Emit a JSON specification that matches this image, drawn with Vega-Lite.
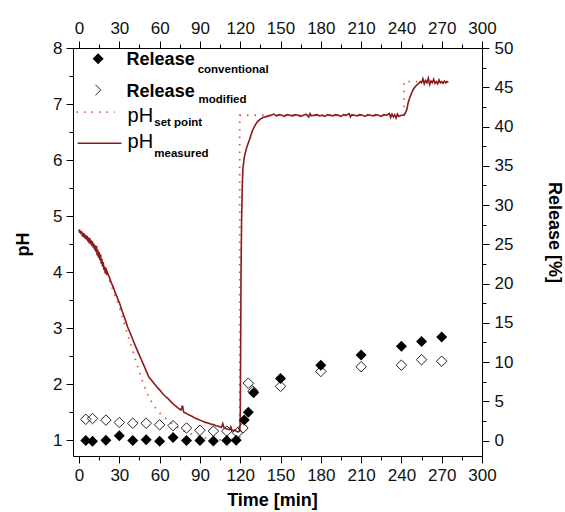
{
  "$schema": "https://vega.github.io/schema/vega-lite/v6.json",
  "width": 409,
  "height": 408,
  "autosize": {"type": "none"},
  "padding": {"left": 73, "top": 48, "right": 83, "bottom": 56},
  "background": "white",
  "config": {
    "view": {"stroke": null},
    "font": "Liberation Sans",
    "axis": {
      "domainColor": "#000", "tickColor": "#000", "labelColor": "#111", "titleColor": "#000",
      "grid": false, "labelFont": "Liberation Sans", "labelFontSize": 17,
      "titleFont": "Liberation Sans", "titleFontSize": 18, "titleFontWeight": "bold",
      "domainWidth": 1, "tickWidth": 1, "tickSize": 7, "labelFlush": false, "labelOverlap": false, "labelBound": false
    }
  },
  "datasets": {
    "measured": [
      {"t":0,"ph":4.76},{"t":0.5,"ph":4.70},{"t":1,"ph":4.74},{"t":1.5,"ph":4.68},{"t":2,"ph":4.73},{"t":2.5,"ph":4.64},{"t":3,"ph":4.70},{"t":3.5,"ph":4.62},{"t":4,"ph":4.69},{"t":4.5,"ph":4.60},
      {"t":5,"ph":4.66},{"t":5.5,"ph":4.58},{"t":6,"ph":4.65},{"t":6.5,"ph":4.55},{"t":7,"ph":4.62},{"t":7.5,"ph":4.52},{"t":8,"ph":4.61},{"t":8.5,"ph":4.50},{"t":9,"ph":4.57},{"t":9.5,"ph":4.47},
      {"t":10,"ph":4.55},{"t":10.5,"ph":4.44},{"t":11,"ph":4.51},{"t":11.5,"ph":4.40},{"t":12,"ph":4.48},{"t":12.5,"ph":4.36},{"t":13,"ph":4.47},{"t":13.5,"ph":4.30},{"t":14,"ph":4.40},{"t":14.5,"ph":4.26},
      {"t":15,"ph":4.36},{"t":15.5,"ph":4.22},{"t":16,"ph":4.32},{"t":16.5,"ph":4.15},{"t":17,"ph":4.24},{"t":17.5,"ph":4.10},{"t":18,"ph":4.18},{"t":18.5,"ph":4.04},{"t":19,"ph":4.10},{"t":19.5,"ph":3.98},
      {"t":20,"ph":4.08},{"t":20.5,"ph":3.95},{"t":21,"ph":4.00},{"t":22,"ph":3.94},{"t":23,"ph":3.88},{"t":24,"ph":3.81},{"t":25,"ph":3.76},{"t":26,"ph":3.70},{"t":27,"ph":3.63},{"t":28,"ph":3.58},{"t":29,"ph":3.51},
      {"t":30,"ph":3.46},{"t":32,"ph":3.31},{"t":34,"ph":3.18},{"t":36,"ph":3.03},{"t":38,"ph":2.92},{"t":40,"ph":2.80},{"t":42,"ph":2.68},{"t":44,"ph":2.57},{"t":46,"ph":2.46},{"t":48,"ph":2.35},
      {"t":50,"ph":2.24},{"t":52,"ph":2.13},{"t":54,"ph":2.07},{"t":56,"ph":2.01},{"t":58,"ph":1.95},{"t":60,"ph":1.90},{"t":62,"ph":1.84},{"t":64,"ph":1.79},{"t":66,"ph":1.75},{"t":68,"ph":1.70},
      {"t":70,"ph":1.65},{"t":72,"ph":1.61},{"t":74,"ph":1.57},{"t":76,"ph":1.54},{"t":77,"ph":1.62},{"t":78,"ph":1.50},{"t":80,"ph":1.48},{"t":82,"ph":1.45},{"t":84,"ph":1.43},{"t":86,"ph":1.40},
      {"t":88,"ph":1.38},{"t":90,"ph":1.36},{"t":92,"ph":1.34},{"t":94,"ph":1.32},{"t":96,"ph":1.31},{"t":98,"ph":1.29},{"t":100,"ph":1.28},{"t":102,"ph":1.26},{"t":104,"ph":1.25},{"t":106,"ph":1.23},
      {"t":107,"ph":1.30},{"t":108,"ph":1.22},{"t":110,"ph":1.20},{"t":112,"ph":1.19},{"t":113,"ph":1.24},{"t":114,"ph":1.17},{"t":116,"ph":1.18},{"t":118,"ph":1.15},{"t":119.5,"ph":1.16},
      {"t":120,"ph":1.30},{"t":120.3,"ph":2.6},{"t":120.6,"ph":4.0},{"t":121,"ph":4.9},{"t":121.5,"ph":5.5},{"t":122,"ph":5.85},{"t":123,"ph":6.05},{"t":124,"ph":6.15},{"t":125,"ph":6.24},
      {"t":127,"ph":6.37},{"t":129,"ph":6.52},{"t":131,"ph":6.62},{"t":133,"ph":6.69},{"t":135,"ph":6.73},{"t":137,"ph":6.76},{"t":140,"ph":6.78},{"t":143,"ph":6.80},{"t":145,"ph":6.82},{"t":147,"ph":6.79},
      {"t":149,"ph":6.81},{"t":151,"ph":6.80},{"t":153,"ph":6.78},{"t":155,"ph":6.81},{"t":157,"ph":6.80},{"t":159,"ph":6.79},{"t":161,"ph":6.81},{"t":163,"ph":6.80},{"t":165,"ph":6.78},{"t":167,"ph":6.80},
      {"t":169,"ph":6.82},{"t":171,"ph":6.77},{"t":172,"ph":6.83},{"t":173,"ph":6.79},{"t":175,"ph":6.80},{"t":177,"ph":6.81},{"t":179,"ph":6.79},{"t":181,"ph":6.80},{"t":183,"ph":6.78},{"t":185,"ph":6.81},
      {"t":187,"ph":6.80},{"t":189,"ph":6.79},{"t":191,"ph":6.81},{"t":193,"ph":6.80},{"t":195,"ph":6.78},{"t":197,"ph":6.81},{"t":199,"ph":6.80},{"t":201,"ph":6.83},{"t":202,"ph":6.77},{"t":203,"ph":6.81},
      {"t":205,"ph":6.80},{"t":207,"ph":6.79},{"t":209,"ph":6.81},{"t":211,"ph":6.80},{"t":213,"ph":6.78},{"t":215,"ph":6.81},{"t":217,"ph":6.80},{"t":219,"ph":6.79},{"t":221,"ph":6.81},{"t":223,"ph":6.80},
      {"t":225,"ph":6.78},{"t":227,"ph":6.81},{"t":229,"ph":6.80},{"t":231,"ph":6.83},{"t":232,"ph":6.76},{"t":233,"ph":6.82},{"t":234,"ph":6.77},{"t":235,"ph":6.81},{"t":236,"ph":6.75},{"t":237,"ph":6.82},
      {"t":238,"ph":6.78},{"t":240,"ph":6.80},{"t":242,"ph":6.80},{"t":243,"ph":6.84},{"t":244,"ph":6.90},{"t":245,"ph":7.02},{"t":246,"ph":7.10},{"t":247,"ph":7.16},{"t":248,"ph":7.22},{"t":249,"ph":7.27},
      {"t":250,"ph":7.30},{"t":251,"ph":7.33},{"t":252,"ph":7.35},{"t":253,"ph":7.37},{"t":254,"ph":7.40},{"t":255,"ph":7.38},{"t":256,"ph":7.45},{"t":257,"ph":7.36},{"t":258,"ph":7.42},{"t":259,"ph":7.38},
      {"t":260,"ph":7.46},{"t":261,"ph":7.35},{"t":262,"ph":7.41},{"t":263,"ph":7.38},{"t":264,"ph":7.44},{"t":265,"ph":7.37},{"t":266,"ph":7.40},{"t":267,"ph":7.36},{"t":268,"ph":7.43},{"t":269,"ph":7.38},
      {"t":270,"ph":7.40},{"t":271,"ph":7.37},{"t":272,"ph":7.41},{"t":273,"ph":7.38},{"t":274,"ph":7.40},{"t":275,"ph":7.39}
    ],
    "setpoint": [
      {"i":1,"t":0,"ph":4.76},{"i":2,"t":10,"ph":4.52},{"i":3,"t":20,"ph":4.02},{"i":4,"t":30,"ph":3.38},{"i":5,"t":36,"ph":2.90},
      {"i":6,"t":42,"ph":2.44},{"i":7,"t":48,"ph":2.00},{"i":8,"t":52,"ph":1.76},{"i":9,"t":58,"ph":1.54},{"i":10,"t":62,"ph":1.44},
      {"i":11,"t":70,"ph":1.28},{"i":12,"t":80,"ph":1.14},{"i":13,"t":90,"ph":1.06},{"i":14,"t":100,"ph":1.02},{"i":15,"t":110,"ph":1.00},
      {"i":16,"t":119.6,"ph":1.00},{"i":17,"t":119.6,"ph":6.80},{"i":18,"t":134,"ph":6.80},{"i":19,"t":242,"ph":6.80},{"i":20,"t":242,"ph":7.40},{"i":21,"t":275,"ph":7.40}
    ],
    "release": [
      {"series":"conventional","t":5,"r":0.0},{"series":"conventional","t":10,"r":-0.1},{"series":"conventional","t":20,"r":0.05},{"series":"conventional","t":30,"r":0.6},
      {"series":"conventional","t":40,"r":0.0},{"series":"conventional","t":50,"r":0.1},{"series":"conventional","t":60,"r":-0.1},{"series":"conventional","t":70,"r":0.4},
      {"series":"conventional","t":80,"r":0.0},{"series":"conventional","t":90,"r":0.0},{"series":"conventional","t":100,"r":-0.05},{"series":"conventional","t":110,"r":0.0},
      {"series":"conventional","t":117,"r":0.05},{"series":"conventional","t":123,"r":2.6},{"series":"conventional","t":126,"r":3.6},{"series":"conventional","t":130,"r":6.1},
      {"series":"conventional","t":150,"r":7.9},{"series":"conventional","t":180,"r":9.6},{"series":"conventional","t":210,"r":10.9},{"series":"conventional","t":240,"r":12.0},
      {"series":"conventional","t":255,"r":12.6},{"series":"conventional","t":270,"r":13.2},
      {"series":"modified","t":5,"r":2.7},{"series":"modified","t":10,"r":2.8},{"series":"modified","t":20,"r":2.6},{"series":"modified","t":30,"r":2.3},
      {"series":"modified","t":40,"r":2.2},{"series":"modified","t":50,"r":2.2},{"series":"modified","t":60,"r":2.0},{"series":"modified","t":70,"r":1.9},
      {"series":"modified","t":80,"r":1.6},{"series":"modified","t":90,"r":1.3},{"series":"modified","t":100,"r":1.2},{"series":"modified","t":110,"r":1.2},
      {"series":"modified","t":118,"r":1.0},{"series":"modified","t":122,"r":1.6},{"series":"modified","t":126,"r":7.3},{"series":"modified","t":129.5,"r":6.3},
      {"series":"modified","t":150,"r":6.9},{"series":"modified","t":180,"r":8.8},{"series":"modified","t":210,"r":9.4},{"series":"modified","t":240,"r":9.6},
      {"series":"modified","t":255,"r":10.3},{"series":"modified","t":270,"r":10.1}
    ]
  },
  "layer": [
    {
      "layer": [
        {
          "data": {"name": "setpoint"},
          "mark": {"type": "line", "color": "#E8524F", "strokeWidth": 1.8, "strokeDash": [1.5, 6]},
          "encoding": {
            "x": {"field": "t", "type": "quantitative", "scale": {"domain": [-4.5, 300], "nice": false, "zero": false},
              "axis": {"orient": "bottom", "title": "Time [min]", "values": [0,30,60,90,120,150,180,210,240,270,300], "format": "d",
                "labelPadding": 4, "titleX": 199, "titleY": 44, "titleBaseline": "middle"}},
            "y": {"field": "ph", "type": "quantitative", "scale": {"domain": [0.72, 8], "nice": false, "zero": false},
              "axis": {"orient": "left", "title": "pH", "values": [1,2,3,4,5,6,7,8], "format": "d",
                "labelPadding": 4, "titleX": -50, "titleY": 196, "titleAngle": -90, "titleBaseline": "middle", "titleAlign": "center"}},
            "order": {"field": "i", "type": "quantitative"}
          }
        },
        {
          "data": {"name": "measured"},
          "mark": {"type": "line", "color": "#8B1A1A", "strokeWidth": 1.6},
          "encoding": {
            "x": {"field": "t", "type": "quantitative"},
            "y": {"field": "ph", "type": "quantitative"}
          }
        },
        {
          "data": {"values": [{"t": -1.9, "ph": 6.857}, {"t": 26.5, "ph": 6.857}]},
          "mark": {"type": "line", "color": "#E8524F", "strokeWidth": 1.8, "strokeDash": [1.5, 6]},
          "encoding": {
            "x": {"field": "t", "type": "quantitative"},
            "y": {"field": "ph", "type": "quantitative"}
          }
        },
        {
          "data": {"values": [{"t": -1.0, "ph": 6.30}, {"t": 31.6, "ph": 6.30}]},
          "mark": {"type": "line", "color": "#8B1A1A", "strokeWidth": 1.6},
          "encoding": {
            "x": {"field": "t", "type": "quantitative"},
            "y": {"field": "ph", "type": "quantitative"}
          }
        },
        {
          "data": {"values": [{"t": 14.2, "ph": 7.81}]},
          "mark": {"type": "point", "shape": "diamond", "filled": true, "color": "#000", "size": 121, "opacity": 1},
          "encoding": {
            "x": {"field": "t", "type": "quantitative"},
            "y": {"field": "ph", "type": "quantitative"}
          }
        },
        {
          "data": {"values": [{"t": 14.2, "ph": 7.25}]},
          "mark": {"type": "point", "shape": "M-0.5,-1L0.5,0L-0.5,1", "filled": false, "color": "#222", "strokeWidth": 1, "size": 110, "opacity": 1},
          "encoding": {
            "x": {"field": "t", "type": "quantitative"},
            "y": {"field": "ph", "type": "quantitative"}
          }
        },
        {
          "data": {"values": [{"t": 35.4, "ph": 7.70, "txt": "Release"}, {"t": 35.4, "ph": 7.13, "txt": "Release"}]},
          "mark": {"type": "text", "align": "left", "baseline": "alphabetic", "fontSize": 18, "fontWeight": "bold", "font": "Liberation Sans", "color": "#000"},
          "encoding": {
            "x": {"field": "t", "type": "quantitative"},
            "y": {"field": "ph", "type": "quantitative"},
            "text": {"field": "txt"}
          }
        },
        {
          "data": {"values": [{"t": 36.1, "ph": 6.68, "txt": "pH"}, {"t": 36.1, "ph": 6.21, "txt": "pH"}]},
          "mark": {"type": "text", "align": "left", "baseline": "alphabetic", "fontSize": 20, "font": "Liberation Sans", "color": "#000"},
          "encoding": {
            "x": {"field": "t", "type": "quantitative"},
            "y": {"field": "ph", "type": "quantitative"},
            "text": {"field": "txt"}
          }
        },
        {
          "data": {"values": [
            {"t": 88.3, "ph": 7.555, "txt": "conventional"},
            {"t": 89.0, "ph": 7.02, "txt": "modified"},
            {"t": 56.0, "ph": 6.60, "txt": "set point"},
            {"t": 56.0, "ph": 6.06, "txt": "measured"}
          ]},
          "mark": {"type": "text", "align": "left", "baseline": "alphabetic", "fontSize": 11.5, "fontWeight": "bold", "font": "Liberation Sans", "color": "#000"},
          "encoding": {
            "x": {"field": "t", "type": "quantitative"},
            "y": {"field": "ph", "type": "quantitative"},
            "text": {"field": "txt"}
          }
        }
      ]
    },
    {
      "data": {"name": "release"},
      "layer": [
        {
          "transform": [{"filter": "datum.series === 'modified'"}],
          "mark": {"type": "point", "shape": "diamond", "filled": false, "color": "#222", "strokeWidth": 1, "size": 110, "opacity": 1},
          "encoding": {
            "x": {"field": "t", "type": "quantitative", "scale": {"domain": [-4.5, 300], "nice": false, "zero": false},
              "axis": {"orient": "top", "title": null, "values": [0,30,60,90,120,150,180,210,240,270,300], "format": "d", "labelPadding": 4}},
            "y": {"field": "r", "type": "quantitative", "scale": {"domain": [-1.97, 50], "nice": false, "zero": false},
              "axis": {"orient": "right", "title": "Release [%]", "values": [0,5,10,15,20,25,30,35,40,45,50], "format": "d",
                "labelPadding": 5, "titleX": 71, "titleY": 184, "titleAngle": 90, "titleBaseline": "middle", "titleAlign": "center"}}
          }
        },
        {
          "transform": [{"filter": "datum.series === 'conventional'"}],
          "mark": {"type": "point", "shape": "diamond", "filled": true, "color": "#000", "size": 121, "opacity": 1},
          "encoding": {
            "x": {"field": "t", "type": "quantitative"},
            "y": {"field": "r", "type": "quantitative"}
          }
        }
      ]
    },
    {
      "data": {"name": "setpoint"},
      "mark": {"type": "point", "opacity": 0},
      "encoding": {
        "x": {"field": "t", "type": "quantitative", "scale": {"domain": [-4.5, 300], "nice": false, "zero": false},
          "axis": {"orient": "bottom", "title": null, "labels": false, "domain": false, "tickSize": 4, "values": [15,45,75,105,135,165,195,225,255,285]}},
        "y": {"field": "ph", "type": "quantitative", "scale": {"domain": [0.72, 8], "nice": false, "zero": false},
          "axis": {"orient": "left", "title": null, "labels": false, "domain": false, "tickSize": 4, "values": [1.5,2.5,3.5,4.5,5.5,6.5,7.5]}}
      }
    },
    {
      "data": {"name": "release"},
      "mark": {"type": "point", "opacity": 0},
      "encoding": {
        "x": {"field": "t", "type": "quantitative", "scale": {"domain": [-4.5, 300], "nice": false, "zero": false},
          "axis": {"orient": "top", "title": null, "labels": false, "domain": false, "tickSize": 4, "values": [15,45,75,105,135,165,195,225,255,285]}},
        "y": {"field": "r", "type": "quantitative", "scale": {"domain": [-1.97, 50], "nice": false, "zero": false},
          "axis": {"orient": "right", "title": null, "labels": false, "domain": false, "tickSize": 4, "values": [2.5,7.5,12.5,17.5,22.5,27.5,32.5,37.5,42.5,47.5]}}
      }
    }
  ],
  "resolve": {"scale": {"y": "independent"}, "axis": {"x": "independent", "y": "independent"}}
}
